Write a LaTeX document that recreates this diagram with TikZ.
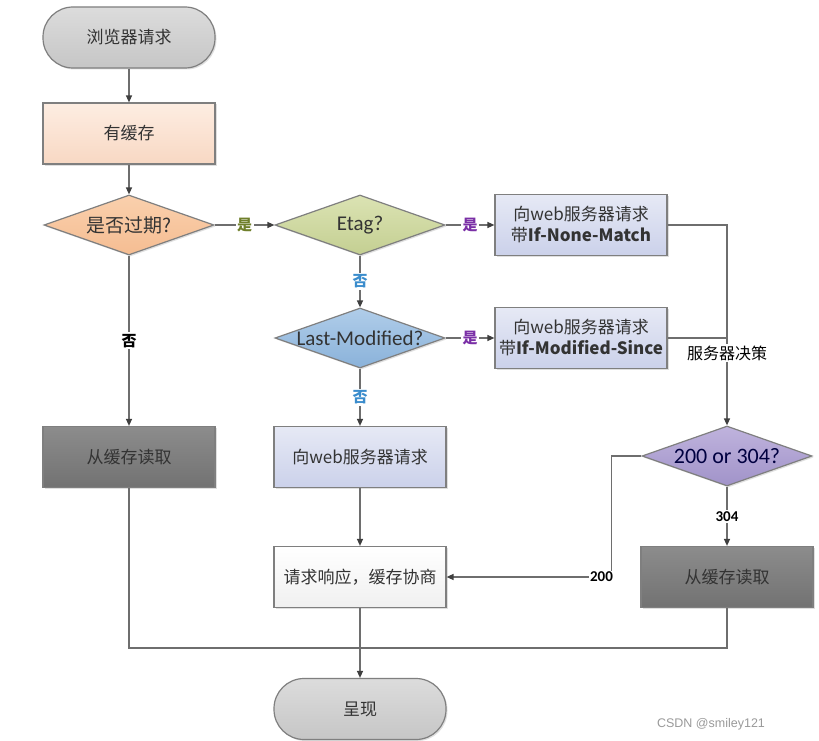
\documentclass[tikz,border=0pt]{standalone}
\usepackage{fontspec}
\setmainfont{Noto Sans CJK SC}
\newfontfamily\latin{Carlito}
\newfontfamily\wmfont{Liberation Sans}
\usetikzlibrary{arrows.meta}
\usetikzlibrary{shapes.geometric}
\usetikzlibrary{shadows}
\definecolor{linegray}{HTML}{6E6E6E}
\definecolor{tipgray}{HTML}{3F3F3F}
\definecolor{bordergray}{HTML}{7F7F7F}
\definecolor{textgray}{HTML}{333333}
\definecolor{yesgreen}{HTML}{6F7F2A}
\definecolor{yespurple}{HTML}{7A2FA6}
\definecolor{noblue}{HTML}{3A8CCC}
\definecolor{wmgray}{HTML}{9A9A9A}
\definecolor{termtop}{HTML}{DCDCDC}
\definecolor{termbot}{HTML}{C6C6C6}
\definecolor{peachtop}{HTML}{FDEDE2}
\definecolor{peachbot}{HTML}{F8D8C3}
\definecolor{orangetop}{HTML}{FAD0AD}
\definecolor{orangebot}{HTML}{F5BD92}
\definecolor{olivetop}{HTML}{DBE3B3}
\definecolor{olivebot}{HTML}{C4CF92}
\definecolor{bluetop}{HTML}{B0CDE9}
\definecolor{bluebot}{HTML}{8AB2DA}
\definecolor{lavtop}{HTML}{E6E9F5}
\definecolor{lavbot}{HTML}{CBD1EA}
\definecolor{violettop}{HTML}{BFB3DD}
\definecolor{violetbot}{HTML}{A193C9}
\definecolor{darktop}{HTML}{8C8C8C}
\definecolor{darkbot}{HTML}{727272}
\newcommand{\dtext}[1]{\makebox[0pt]{#1}}
\tikzset{box/.style = {draw=bordergray, line width=1.2pt, minimum width=172pt,
                       minimum height=61pt, inner sep=0pt, align=center,
                       text=textgray, font=\fontsize{17}{21}\selectfont,
                       drop shadow={shadow xshift=1.5pt, shadow yshift=-1.5pt, opacity=0.25}},
         term/.style = {box, rounded corners=30pt, top color=termtop, bottom color=termbot},
         dec/.style = {diamond, aspect=2.83, draw=bordergray, line width=1.2pt,
                       minimum width=170pt, minimum height=60pt, inner sep=0pt,
                       text=textgray, font=\latin\fontsize{21}{21}\selectfont,
                       drop shadow={shadow xshift=1.5pt, shadow yshift=-1.5pt, opacity=0.25}},
         arr/.style = {draw=linegray, line width=1.3pt,
                       -{Triangle[width=6pt, length=7pt, color=tipgray]}},
         line/.style = {draw=linegray, line width=1.3pt},
         lbl/.style = {fill=white, inner sep=1.5pt, font=\fontsize{15}{15}\selectfont\bfseries}}

\begin{document}
\begin{tikzpicture}[x=1pt, y=-1pt]
    \useasboundingbox[fill=white] (0,0) rectangle (819,741);

    \node[term] (start) at (129,37.5) {浏览器请求};
    \node[box, top color=peachtop, bottom color=peachbot] (cache) at (129,133.5) {有缓存};
    \node[dec, top color=orangetop, bottom color=orangebot, font=\fontsize{19}{19}\selectfont] (expired) at (129,225) {\dtext{是否过期?}};
    \node[dec, top color=olivetop, bottom color=olivebot] (etag) at (360,225) {\dtext{Etag?}};
    \node[box, top color=lavtop, bottom color=lavbot] (inm) at (581,225) {向web服务器请求\\带\textbf{If-None-Match}};
    \node[dec, top color=bluetop, bottom color=bluebot] (lm) at (360,338) {\dtext{Last-Modified?}};
    \node[box, top color=lavtop, bottom color=lavbot] (ims) at (581,338) {向web服务器请求\\带\textbf{If-Modified-Since}};
    \node[box, top color=darktop, bottom color=darkbot] (readL) at (129,457) {从缓存读取};
    \node[box, top color=lavtop, bottom color=lavbot] (req) at (360,457) {向web服务器请求};
    \node[dec, top color=violettop, bottom color=violetbot, text=black!75!blue, font=\latin\fontsize{22}{22}\selectfont] (decision) at (727,456) {\dtext{200 or 304?}};
    \node[box, top color=white, bottom color=gray!12] (nego) at (360,577) {请求响应，缓存协商};
    \node[box, top color=darktop, bottom color=darkbot] (readR) at (727,577) {从缓存读取};
    \node[term] (show) at (360,709) {呈现};
    \coordinate (join) at (360,648);

    \draw[arr] (start) -- (cache);
    \draw[arr] (cache) -- (expired);
    \draw[arr] (expired) -- node[lbl, text=yesgreen]{是} (etag);
    \draw[arr] (etag) -- node[lbl, text=yespurple]{是} (inm);
    \draw[arr] (etag) -- node[lbl, text=noblue]{否} (lm);
    \draw[arr] (lm) -- node[lbl, text=yespurple]{是} (ims);
    \draw[arr] (lm) -- node[lbl, text=noblue]{否} (req);
    \draw[arr] (expired) -- node[lbl, text=black]{否} (readL);
    \draw[arr] (req) -- (nego);
    \draw[line] (ims.east) -- (ims.east -| decision.north);
    \draw[arr] (inm.east) -| node[lbl, pos=0.82, font=\fontsize{16}{16}\selectfont]{服务器决策} (decision.north);
    \draw[arr] (decision) -- node[lbl, font=\latin\fontsize{15}{15}\selectfont\bfseries]{304} (readR);
    \draw[arr] (decision.west) -- ++(-30,0) |- node[lbl, pos=0.53, font=\latin\fontsize{15}{15}\selectfont\bfseries]{200} (nego.east);
    \draw[line] (readL.south) |- (join);
    \draw[line] (readR.south) |- (join);
    \draw[arr] (nego) -- (show);

    \node[text=wmgray, font=\wmfont\fontsize{12.5}{12.5}\selectfont] (mark) at (711,724) {CSDN @smiley121};
\end{tikzpicture}
\end{document}
